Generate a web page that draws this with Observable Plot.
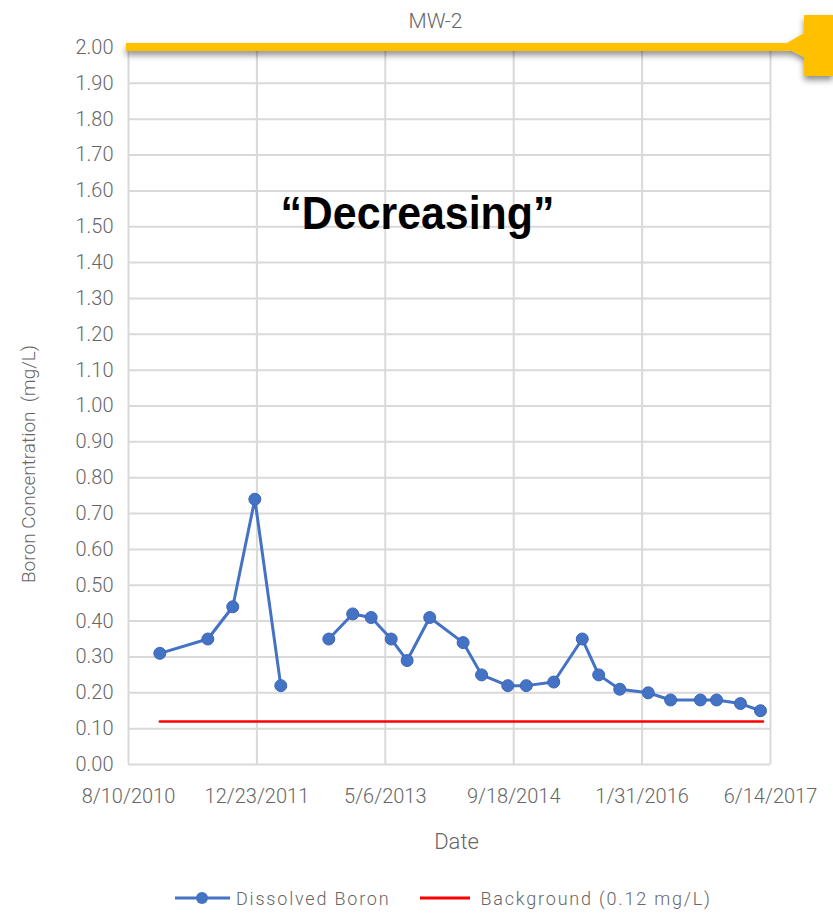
<!DOCTYPE html>
<html>
<head>
<meta charset="utf-8">
<script src="https://cdn.jsdelivr.net/npm/d3@7"></script>
<script src="https://cdn.jsdelivr.net/npm/@observablehq/plot@0.6"></script>
<style>
  html, body { margin: 0; padding: 0; background: #fff; }
  #wrap { width: 833px; }
  #legend { height: 46px; padding-top: 10px; display: flex; align-items: center; padding-left: 175px; box-sizing: border-box;
    font-family: Roboto, "Open Sans", sans-serif; font-weight: 300; font-size: 18px; letter-spacing: 1.8px; color: #666; }
  #legend .item { display: flex; align-items: center; }
  #legend svg { display: block; }
</style>
</head>
<body>
<div id="wrap"></div>
<script>
// ---- data ----
const title = "MW-2";
const yLabel = "Boron Concentration  (mg/L)";
const xLabel = "Date";
const tickDates = ["2010-08-10", "2011-12-23", "2013-05-06", "2014-09-18", "2016-01-31", "2017-06-14"];
const yTicks = [0.00, 0.10, 0.20, 0.30, 0.40, 0.50, 0.60, 0.70, 0.80, 0.90, 1.00,
                1.10, 1.20, 1.30, 1.40, 1.50, 1.60, 1.70, 1.80, 1.90, 2.00];
const sampleDates = ["2010-12-10", "2011-06-15", "2011-09-20", "2011-12-15", "2012-03-25",
                     "2012-09-28", "2012-12-30", "2013-03-12", "2013-05-29", "2013-07-30",
                     "2013-10-26", "2014-03-05", "2014-05-16", "2014-08-26", "2014-11-06",
                     "2015-02-21", "2015-06-12", "2015-08-15", "2015-11-05", "2016-02-24",
                     "2016-05-21", "2016-09-14", "2016-11-16", "2017-02-17", "2017-05-06"];
const boron = [0.31, 0.35, 0.44, 0.74, 0.22,
               0.35, 0.42, 0.41, 0.35, 0.29,
               0.41, 0.34, 0.25, 0.22, 0.22,
               0.23, 0.35, 0.25, 0.21, 0.20,
               0.18, 0.18, 0.18, 0.17, 0.15];
const segment = [1, 1, 1, 1, 1,
                 2, 2, 2, 2, 2,
                 2, 2, 2, 2, 2,
                 2, 2, 2, 2, 2,
                 2, 2, 2, 2, 2];
const bgDates = ["2010-12-10", "2017-05-16"];
const bgValue = 0.12;
const seriesNames = ["Dissolved Boron", "Background (0.12 mg/L)"];
const annotationText = "\u201CDecreasing\u201D";
const annotationDate = "2013-09-08";
const annotationValue = 1.535;

// ---- build ----
const parse = d3.utcParse("%Y-%m-%d");
const data = sampleDates.map((d, i) => ({date: parse(d), value: boron[i], seg: segment[i]}));
const bg = bgDates.map(d => ({date: parse(d), value: bgValue}));
const ticks = tickDates.map(parse);
const fmtDate = d => `${d.getUTCMonth() + 1}/${d.getUTCDate()}/${d.getUTCFullYear()}`;
const blue = "#4472c4", red = "#ff0000", grid = "#d9d9d9", yellow = "#ffc000";

const chart = Plot.plot({
  width: 833,
  height: 870,
  marginLeft: 128,
  marginRight: 63,
  marginTop: 47,
  marginBottom: 106,
  style: {fontFamily: "Roboto, 'Open Sans', sans-serif", fontSize: "20px", fontWeight: 300, color: "#666", background: "#fff", overflow: "visible"},
  x: {type: "utc", domain: [ticks[0], ticks[ticks.length - 1]]},
  y: {domain: [0, 2]},
  marks: [
    Plot.gridX(ticks, {stroke: grid, strokeOpacity: 1, strokeWidth: 2}),
    Plot.gridY(yTicks, {stroke: grid, strokeOpacity: 1, strokeWidth: 2}),
    Plot.axisX(ticks, {tickSize: 0, tickPadding: 24, tickFormat: fmtDate, label: null, fill: "#666", style: {letterSpacing: "1.8px"}}),
    Plot.axisY(yTicks, {tickSize: 0, tickPadding: 15, tickFormat: d3.format(".2f"), label: null, fill: "#666"}),
    Plot.line(bg, {x: "date", y: "value", stroke: red, strokeWidth: 2.5}),
    Plot.line(data, {x: "date", y: "value", z: "seg", stroke: blue, strokeWidth: 3}),
    Plot.dot(data, {x: "date", y: "value", r: 6, fill: blue, stroke: "#3b66b5", strokeWidth: 1}),
    Plot.text([{date: parse(annotationDate), value: annotationValue, label: annotationText}],
      {x: "date", y: "value", text: "label", fontSize: 46, fontWeight: "bold", className: "annot",
       fontFamily: "'Liberation Sans', Arial, sans-serif", fill: "#000"}),
    Plot.text([yLabel], {frameAnchor: "left", dx: -100, dy: 58, rotate: -90, fontSize: 19, fill: "#666", textAnchor: "middle"}),
    Plot.text([xLabel], {frameAnchor: "bottom", lineAnchor: "middle", dy: 77, dx: 7, fontSize: 22, fill: "#666"}),
    Plot.text([title], {frameAnchor: "top", lineAnchor: "middle", dy: -26, dx: -14, fontSize: 21, fill: "#666"})
  ]
});

// narrow the annotation like a condensed face
d3.select(chart).selectAll("g.annot text")
  .attr("textLength", 274)
  .attr("lengthAdjust", "spacingAndGlyphs");

// yellow highlight rule with callout arrow at y = 2.00
{
  const svg = d3.select(chart);
  const W = 833;
  const x0 = 126;
  const y0 = chart.scale("y").apply(2);
  const defs = svg.insert("defs", ":first-child");
  defs.append("filter").attr("id", "shadow").attr("x", "-10%").attr("y", "-50%").attr("width", "120%").attr("height", "300%")
    .append("feDropShadow").attr("dx", 0).attr("dy", 4).attr("stdDeviation", 3)
    .attr("flood-color", "#000").attr("flood-opacity", 0.45);
  const pts = [
    [x0, y0 - 4], [W - 46, y0 - 4], [W - 29, y0 - 14], [W - 29, y0 - 32], [W, y0 - 32],
    [W, y0 + 29], [W - 29, y0 + 29], [W - 29, y0 + 10], [W - 41, y0 + 4], [x0, y0 + 4]
  ];
  svg.append("path")
    .attr("d", "M" + pts.map(p => p.join(",")).join("L") + "Z")
    .attr("fill", yellow)
    .attr("filter", "url(#shadow)");
}

document.getElementById("wrap").appendChild(chart);

// legend
const legend = document.createElement("div");
legend.id = "legend";
legend.innerHTML = `
  <div class="item">
    <svg width="57" height="20"><line x1="0" y1="10" x2="55" y2="10" stroke="${blue}" stroke-width="3"/><circle cx="27" cy="10" r="6" fill="${blue}"/></svg>
    <span style="margin-left:4px">${seriesNames[0]}</span>
  </div>
  <div class="item" style="margin-left:30px">
    <svg width="52" height="20"><line x1="0" y1="10" x2="50" y2="10" stroke="${red}" stroke-width="3"/></svg>
    <span style="margin-left:8px">${seriesNames[1]}</span>
  </div>`;
document.getElementById("wrap").appendChild(legend);
</script>
</body>
</html>
